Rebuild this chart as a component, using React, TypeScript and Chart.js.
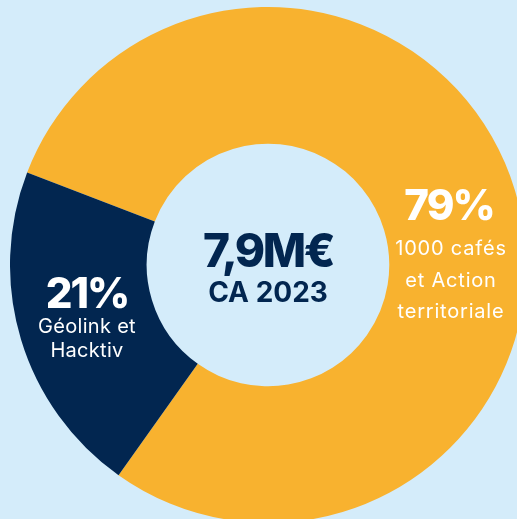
import React, { useEffect, useRef } from "react";
import { Chart, registerables } from "chart.js";

Chart.register(...registerables);

const labels = ["1000 cafés et Action territoriale", "Géolink et Hacktiv"];
const shares = [79, 21];
const colors = ["#F8B22F", "#022650"];
const totalLabel = "7,9M€";
const totalSub = "CA 2023";
const pctLabels = ["79%", "21%"];
const nameLines = [["1000 cafés", "et Action", "territoriale"], ["Géolink et", "Hacktiv"]];

const BG = "#D4ECFA";
const FONT = "Inter, 'Open Sans', sans-serif";

const textPlugin = {
  id: "donutText",
  afterDatasetsDraw(chart: any) {
    const ctx = chart.ctx as CanvasRenderingContext2D;
    const arc = chart.getDatasetMeta(0).data[0];
    const cx = arc.x;
    const cy = arc.y;
    ctx.save();
    ctx.textAlign = "center";
    ctx.textBaseline = "alphabetic";
    // centre
    ctx.fillStyle = "#022650";
    (ctx as any).letterSpacing = "-2.5px";
    ctx.font = `800 46px ${FONT}`;
    ctx.fillText(totalLabel, cx, cy + 2);
    (ctx as any).letterSpacing = "0px";
    ctx.font = `700 28px ${FONT}`;
    ctx.fillText(totalSub, cx, cy + 37);

    ctx.fillStyle = "#FFFFFF";
    // right label (orange)
    const rx = cx + 183;
    (ctx as any).letterSpacing = "-2px";
    ctx.font = `800 42px ${FONT}`;
    ctx.fillText(pctLabels[0], rx - 2, cy - 45);
    (ctx as any).letterSpacing = "0.8px";
    ctx.font = `400 20px ${FONT}`;
    nameLines[0].forEach((l, i) => ctx.fillText(l, rx, cy - 10 + i * 31.5));

    // left label (navy)
    const lx = cx - 181;
    (ctx as any).letterSpacing = "-2px";
    ctx.font = `800 42px ${FONT}`;
    ctx.fillText(pctLabels[1], lx, cy + 43);
    (ctx as any).letterSpacing = "0.3px";
    ctx.font = `400 20px ${FONT}`;
    nameLines[1].forEach((l, i) => ctx.fillText(l, lx, cy + 68 + i * 24));
    ctx.restore();
  },
};

export default function App() {
  const ref = useRef<HTMLCanvasElement>(null);
  useEffect(() => {
    if (!ref.current) return;
    const chart = new Chart(ref.current, {
      type: "doughnut",
      data: {
        labels,
        datasets: [
          {
            data: shares,
            backgroundColor: colors,
            borderWidth: 0,
          },
        ],
      },
      options: {
        responsive: false,
        animation: false,
        rotation: 291,
        cutout: "47%",
        layout: { padding: 0 },
        plugins: {
          legend: { display: false },
          tooltip: { enabled: false },
        },
      },
      plugins: [textPlugin],
    });
    return () => chart.destroy();
  }, []);

  return (
    <div style={{ position: "fixed", inset: 0, background: BG, overflow: "hidden" }}>
      <canvas
        ref={ref}
        width={516}
        height={516}
        style={{ position: "absolute", left: 10, top: 7, width: 516, height: 516 }}
      />
    </div>
  );
}
